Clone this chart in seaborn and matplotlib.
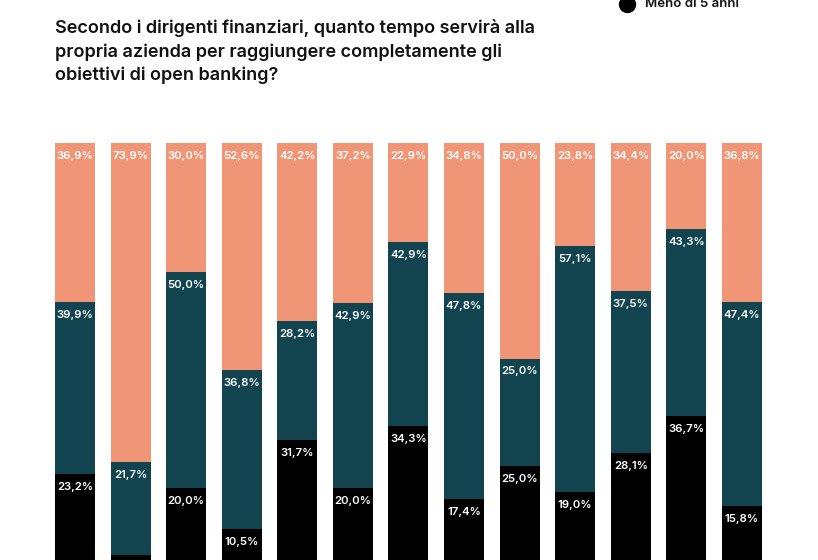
import numpy as np
import pandas as pd
import matplotlib
matplotlib.use("Agg")
import matplotlib.pyplot as plt
from matplotlib.lines import Line2D
import seaborn as sns

# values (per bar: black / teal / salmon)
meno_5 = [23.2, 4.4, 20.0, 10.5, 31.7, 20.0, 34.3, 17.4, 25.0, 19.0, 28.1, 36.7, 15.8]
medio = [39.9, 21.7, 50.0, 36.8, 28.2, 42.9, 42.9, 47.8, 25.0, 57.1, 37.5, 43.3, 47.4]
oltre = [36.9, 73.9, 30.0, 52.6, 42.2, 37.2, 22.9, 34.8, 50.0, 23.8, 34.4, 20.0, 36.8]
bars = [f"b{i}" for i in range(len(meno_5))]

TITLE = ("Secondo i dirigenti finanziari, quanto tempo servirà alla\n"
         "propria azienda per raggiungere completamente gli\n"
         "obiettivi di open banking?")
COL_BLACK = "#000000"
COL_TEAL = "#12444f"
COL_SALMON = "#f09576"

df = pd.DataFrame({"bar": bars, "a": meno_5, "b": medio, "c": oltre})
tot = df[["a", "b", "c"]].sum(axis=1)
for k in ["a", "b", "c"]:
    df[k + "_n"] = df[k] / tot * 100
df["cum_a"] = df["a_n"]
df["cum_b"] = df["a_n"] + df["b_n"]
df["cum_c"] = df["cum_b"] + df["c_n"]

sns.set_style("white")
plt.rcParams["font.family"] = ["Inter", "DejaVu Sans"]

W, H = 818, 560
fig = plt.figure(figsize=(W / 100, H / 100), dpi=100)
# the original is cropped: bars run past the bottom edge
ax = fig.add_axes([0, -14 / H, 1, 431 / H])

for col, c in [("cum_c", COL_SALMON), ("cum_b", COL_TEAL), ("cum_a", COL_BLACK)]:
    sns.barplot(data=df, x="bar", y=col, color=c, width=0.72, saturation=1,
                linewidth=0, ax=ax, order=bars)

for i, row in df.iterrows():
    for top, raw in [(row["cum_a"], row["a"]), (row["cum_b"], row["b"]), (row["cum_c"], row["c"])]:
        if raw < 5:  # label falls below the cropped edge in the original
            continue
        ax.annotate(f"{raw:.1f}%".replace(".", ","), (i, top), xytext=(0, -13),
                    textcoords="offset pixels", ha="center", va="center",
                    color="white", fontsize=8.2, fontweight="semibold")

ax.set_xlim(-75 / 55.58, (W - 75) / 55.58)
ax.set_ylim(0, 100)
ax.axis("off")

fig.text(55 / W, 1 - 19 / H, TITLE, ha="left", va="top", fontsize=13,
         fontweight="semibold", linespacing=1.45, color="#111111")

fig.add_artist(Line2D([627 / W], [1 - 4 / H], marker="o", markersize=11.5,
                      color="black", transform=fig.transFigure))
fig.text(645 / W, 1 - 4 / H, "Meno di 5 anni", ha="left", va="center",
         fontsize=9.5, fontweight="semibold", color="#111111")

fig.savefig("out.png", dpi=100)
